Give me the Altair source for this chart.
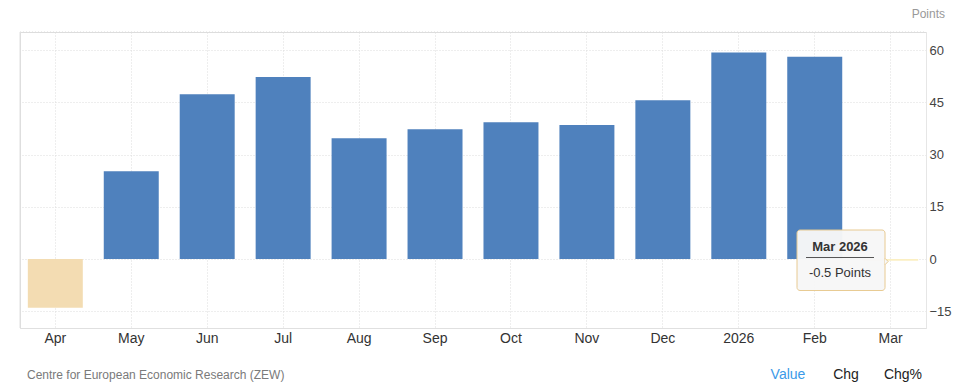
import altair as alt
import pandas as pd

months = ["Apr", "May", "Jun", "Jul", "Aug", "Sep", "Oct", "Nov", "Dec", "2026", "Feb", "Mar"]
values = [-14.0, 25.2, 47.3, 52.3, 34.7, 37.3, 39.3, 38.5, 45.6, 59.3, 58.1, -0.5]
bar_colors = ["#f3dcb2", "#4f81bd", "#4f81bd", "#4f81bd", "#4f81bd", "#4f81bd",
              "#4f81bd", "#4f81bd", "#4f81bd", "#4f81bd", "#4f81bd", "#fbefc2"]
y_ticks = [-15, 0, 15, 30, 45, 60]
tip_title = "Mar 2026"
tip_value = -0.5
unit = "Points"
source = "Centre for European Economic Research (ZEW)"
tabs = ["Value", "Chg", "Chg%"]
tab_colors = ["#3b9ae8", "#222222", "#222222"]

W, H = 906, 296
FONT = "Liberation Sans"

df = pd.DataFrame({"month": months, "value": values})

x_enc = alt.X("month:N", sort=months,
              scale=alt.Scale(paddingInner=0.276, paddingOuter=0.103),
              axis=alt.Axis(title=None, labelAngle=0, labelFontSize=14, labelColor="#333333",
                            labelFont=FONT, labelPadding=3, ticks=False,
                            domainColor="#e0e0e0", grid=True, gridColor="#dddddd",
                            gridDash=[1, 2]))
y_enc = alt.Y("value:Q",
              scale=alt.Scale(domain=[-19.8, 65.2], nice=False, zero=False),
              axis=alt.Axis(title=None, orient="right", values=y_ticks, labelFontSize=13,
                            labelColor="#444444", labelFont=FONT, ticks=False, labelPadding=3,
                            domainColor="#e6e6e6", gridColor="#dddddd", gridDash=[1, 2]))

bars = alt.Chart(df).mark_bar().encode(
    x=x_enc, y=y_enc, y2=alt.datum(0),
    color=alt.Color("month:N", scale=alt.Scale(domain=months, range=bar_colors), legend=None),
)

frame_df = pd.DataFrame({"k": [0]})
left_line = alt.Chart(frame_df).mark_rule(color="#e0e0e0").encode(
    x=alt.value(0), y=alt.value(0), y2=alt.value(H))
top_line = alt.Chart(frame_df).mark_rule(color="#dddddd", strokeDash=[1, 2]).encode(
    x=alt.value(0), x2=alt.value(W), y=alt.value(0))

tip_df = pd.DataFrame({"title": [tip_title], "label": [f"{tip_value} {unit}"]})
tip_box = alt.Chart(tip_df).mark_rect(fill="#f7f7f7", stroke="#e8ca90", strokeWidth=1,
                                      cornerRadius=3, opacity=0.97).encode(
    x=alt.value(777), x2=alt.value(865), y=alt.value(198), y2=alt.value(258.5))
tip_arrow = alt.Chart(tip_df).mark_point(shape="M0,-1L1,0L0,1", filled=True,
                                         fill="#f7f7f7", stroke="#e8ca90", strokeWidth=1,
                                         size=40, opacity=1).encode(
    x=alt.value(865), y=alt.value(229.5))
tip_title_t = alt.Chart(tip_df).mark_text(font=FONT, fontSize=13, fontWeight="bold",
                                          color="#333333", align="center").encode(
    x=alt.value(820), y=alt.value(215), text="title:N")
tip_rule = alt.Chart(tip_df).mark_rule(color="#555555", strokeWidth=1).encode(
    x=alt.value(786), x2=alt.value(854), y=alt.value(225.5))
tip_label = alt.Chart(tip_df).mark_text(font=FONT, fontSize=13, color="#333333",
                                        align="center").encode(
    x=alt.value(820), y=alt.value(240.5), text="label:N")

unit_t = alt.Chart(pd.DataFrame({"t": [unit]})).mark_text(
    font=FONT, fontSize=12, color="#999999", align="right", baseline="top").encode(
    x=alt.value(925), y=alt.value(-23), text="t:N")
source_t = alt.Chart(pd.DataFrame({"t": [source]})).mark_text(
    font=FONT, fontSize=12, color="#7a7a7a", align="left").encode(
    x=alt.value(7), y=alt.value(343), text="t:N")
tab_df = pd.DataFrame({"t": tabs, "c": tab_colors, "px": [768, 826, 883]})
tabs_t = alt.Chart(tab_df).mark_text(font=FONT, fontSize=14, align="center").encode(
    x=alt.X("px:Q", scale=None), y=alt.value(343), text="t:N",
    color=alt.Color("c:N", scale=None))

chart = alt.layer(bars, left_line, top_line, tip_box, tip_arrow, tip_title_t, tip_rule,
                  tip_label, unit_t, source_t, tabs_t).properties(
    width=W, height=H,
    autosize=alt.AutoSizeParams(type="none"),
    padding={"left": 12, "top": 24, "right": 26, "bottom": 54},
).configure_view(stroke=None).configure(background="white")

chart.save("out.html", embed_options={"renderer": "svg", "actions": False})
